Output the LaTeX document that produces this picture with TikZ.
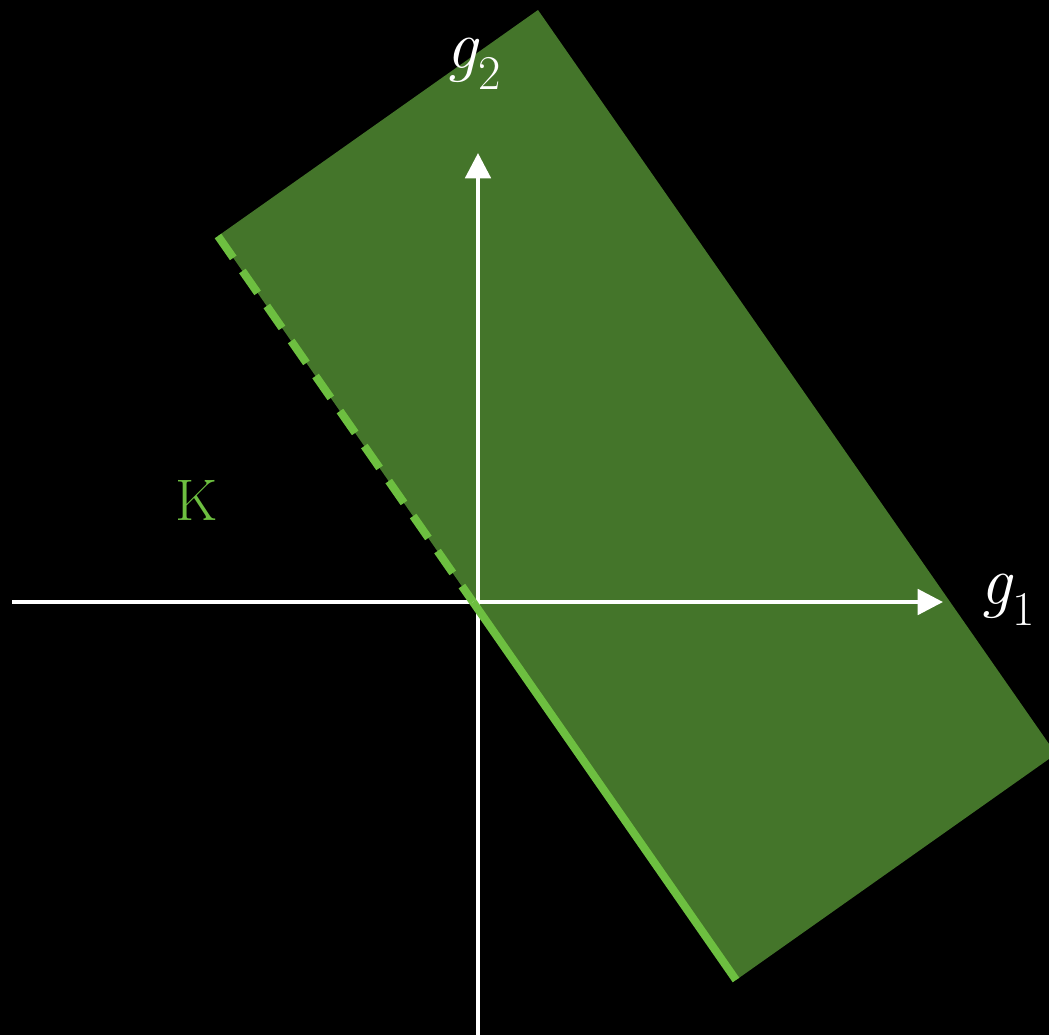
\documentclass[tikz,border=0pt]{standalone}
\usepackage{tikz}
\usetikzlibrary{arrows.meta, calc}

\definecolor{conegreen}{HTML}{44752A}
\definecolor{edgegreen}{HTML}{6DBF40}

\begin{document}
\begin{tikzpicture}[
    x=0.75pt, y=-0.75pt,
    axis/.style={draw=white, line width=3pt, -{Triangle[length=19pt, width=19pt]}},
    plainaxis/.style={draw=white, line width=3pt},
    region/.style={fill=conegreen, draw=none},
    edge/.style={draw=edgegreen, line width=6pt},
    dashedge/.style={draw=edgegreen, line width=6pt, dash pattern=on 20pt off 12pt},
    axislabel/.style={text=white, font=\fontsize{52}{56}\selectfont\itshape},
    conelabel/.style={text=edgegreen, font=\fontsize{44}{48}\selectfont}
]
    % background and frame
    \fill[black] (0,0) rectangle (1049,1035);
    \useasboundingbox (0,0) rectangle (1049,1035);
    \clip (0,0) rectangle (1049,1035);

    \coordinate (origin) at (478,602);
    \coordinate (top) at (538,10);
    \coordinate (left) at (218,236);
    \coordinate (bottom) at (736,980);
    \coordinate (right) at (1056,754);

    % half-plane strip
    \path[region] (left) -- (top) -- (right) -- (bottom) -- cycle;

    % axes
    \coordinate (xstart) at (12,602);
    \coordinate (xend) at (943,602);
    \coordinate (ystart) at (478,1035);
    \coordinate (yend) at (478,153);
    \draw[plainaxis] (xstart) -- (origin);
    \draw[axis] (origin) -- (xend);
    \draw[plainaxis] (ystart) -- (origin);
    \draw[axis] (origin) -- (yend);

    % boundary of K
    \coordinate (kcut) at (473,602);
    \draw[dashedge] (left) -- (kcut);
    \draw[edge] (kcut) -- (bottom);

    % labels
    \node[axislabel] (gtwo) at (474,64) {g\textsubscript{\upshape 2}};
    \node[axislabel] (gone) at (1008,600) {g\textsubscript{\upshape 1}};
    \node[conelabel] (K) at (197,500) {K};
\end{tikzpicture}
\end{document}
